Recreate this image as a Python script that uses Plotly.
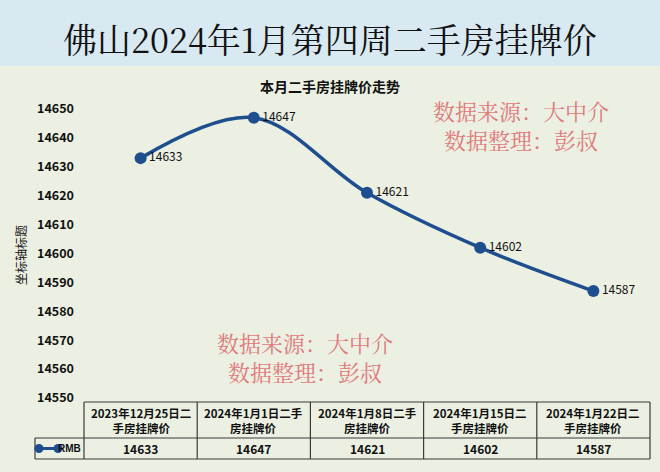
import plotly.graph_objects as go

# ---- data ----
categories = ["2023年12月25日二手房挂牌价", "2024年1月1日二手房挂牌价", "2024年1月8日二手房挂牌价",
              "2024年1月15日二手房挂牌价", "2024年1月22日二手房挂牌价"]
header_labels = ["2023年12月25日二<br>手房挂牌价", "2024年1月1日二手<br>房挂牌价", "2024年1月8日二手<br>房挂牌价",
                 "2024年1月15日二<br>手房挂牌价", "2024年1月22日二<br>手房挂牌价"]
prices = [14633, 14647, 14621, 14602, 14587]
series_name = "RMB"
y_ticks = [14550, 14560, 14570, 14580, 14590, 14600, 14610, 14620, 14630, 14640, 14650]

W, H = 660, 472
L, R, T, B = 84, 650, 109, 398  # plot area in pixels
PW, PH = R - L, B - T


def fx(p):
    return (p - L) / PW


def fy(p):
    return (B - p) / PH


CJK = "Noto Sans CJK SC"
SERIF = "Noto Serif CJK SC, Noto Sans CJK SC"
line_color = "#1f4e8f"
wm_color = "#e07a7a"
border = "#3a3a3a"

xs = list(range(len(categories)))

fig = go.Figure()
fig.add_trace(go.Scatter(
    x=xs, y=prices, mode="lines+markers+text",
    line=dict(color=line_color, width=3.5, shape="spline", smoothing=1.0),
    marker=dict(size=12, color=line_color),
    text=[str(v) for v in prices], textposition="middle right",
    textfont=dict(family=CJK, size=12, color="#111111"),
    cliponaxis=False, showlegend=False, name=series_name, hoverinfo="skip",
))

shapes = []
ann = []

# banner
shapes.append(dict(type="rect", xref="paper", yref="paper", x0=fx(0), x1=fx(W), y0=fy(0), y1=fy(66),
                   fillcolor="#d8e9f1", line=dict(width=0), layer="below"))

ann.append(dict(text="佛山2024年1月第四周二手房挂牌价", xref="paper", yref="paper", x=fx(330), y=fy(38),
                showarrow=False, font=dict(family=SERIF, size=34, color="#111111"), xanchor="center", yanchor="middle"))
ann.append(dict(text="<b>本月二手房挂牌价走势</b>", xref="paper", yref="paper", x=fx(330), y=fy(86),
                showarrow=False, font=dict(family=CJK, size=14, color="#111111"), xanchor="center", yanchor="middle"))
ann.append(dict(text="坐标轴标题", xref="paper", yref="paper", x=fx(20), y=fy(255), textangle=-90,
                showarrow=False, font=dict(family=CJK, size=12, color="#111111"), xanchor="center", yanchor="middle"))

# watermarks
for cx, cy in [(521, 124.5), (305, 356.5)]:
    ann.append(dict(text="数据来源：大中介<br>数据整理：彭叔", xref="paper", yref="paper", x=fx(cx), y=fy(cy),
                    showarrow=False, align="center",
                    font=dict(family=SERIF, size=22, color=wm_color), xanchor="center", yanchor="middle"))

# table
t_top, t_mid, t_bot = 402, 438, 459
leg_left = 35


def hline(x0, x1, y):
    shapes.append(dict(type="line", xref="paper", yref="paper", x0=fx(x0), x1=fx(x1), y0=fy(y), y1=fy(y),
                       line=dict(color=border, width=1.2)))


def vline(x, y0, y1):
    shapes.append(dict(type="line", xref="paper", yref="paper", x0=fx(x), x1=fx(x), y0=fy(y0), y1=fy(y1),
                       line=dict(color=border, width=1.2)))


hline(L, R, t_top)
hline(leg_left, R, t_mid)
hline(leg_left, R, t_bot)
vline(leg_left, t_mid, t_bot)
for i in range(len(categories) + 1):
    vline(L + i * PW / len(categories), t_top, t_bot)

for i, (lab, v) in enumerate(zip(header_labels, prices)):
    ann.append(dict(text="<b>" + lab + "</b>", x=i, xref="x", yref="paper", y=fy((t_top + t_mid) / 2),
                    showarrow=False, font=dict(family=CJK, size=11.5, color="#111111"),
                    xanchor="center", yanchor="middle", align="center"))
    ann.append(dict(text="<b>" + str(v) + "</b>", x=i, xref="x", yref="paper", y=fy((t_mid + t_bot) / 2),
                    showarrow=False, font=dict(family=CJK, size=12, color="#111111"),
                    xanchor="center", yanchor="middle"))

# legend key in table
ly = (t_mid + t_bot) / 2
shapes.append(dict(type="line", xref="paper", yref="paper", x0=fx(39), x1=fx(58), y0=fy(ly), y1=fy(ly),
                   line=dict(color=line_color, width=3)))
for cx in (39, 58):
    shapes.append(dict(type="circle", xref="paper", yref="paper", xsizemode="pixel", ysizemode="pixel",
                       xanchor=fx(cx), yanchor=fy(ly), x0=-4.5, x1=4.5, y0=-4.5, y1=4.5,
                       fillcolor=line_color, line=dict(width=0)))
ann.append(dict(text="<b>" + series_name + "</b>", xref="paper", yref="paper", x=fx(83), y=fy(ly),
                showarrow=False, font=dict(family="Liberation Sans", size=10, color="#111111"),
                xanchor="right", yanchor="middle"))

fig.update_layout(
    width=W, height=H,
    margin=dict(l=L, r=W - R, t=T, b=H - B, pad=0),
    paper_bgcolor="#ebf0e2", plot_bgcolor="rgba(0,0,0,0)",
    shapes=shapes, annotations=ann, showlegend=False, hovermode=False,
    xaxis=dict(range=[-0.5, len(categories) - 0.5], showgrid=False, zeroline=False, showticklabels=False,
               showline=False, ticks=""),
    yaxis=dict(range=[y_ticks[0], y_ticks[-1]], tickvals=y_ticks, ticktext=["<b>%d</b>" % t for t in y_ticks],
               showgrid=False, zeroline=False, showline=False, ticks="", ticklabelstandoff=9,
               tickfont=dict(family=CJK, size=12.5, color="#111111")),
)

fig.write_html("out.html", config={"displayModeBar": False},
               post_script="document.body.style.margin='0px';document.body.style.overflow='hidden';")
